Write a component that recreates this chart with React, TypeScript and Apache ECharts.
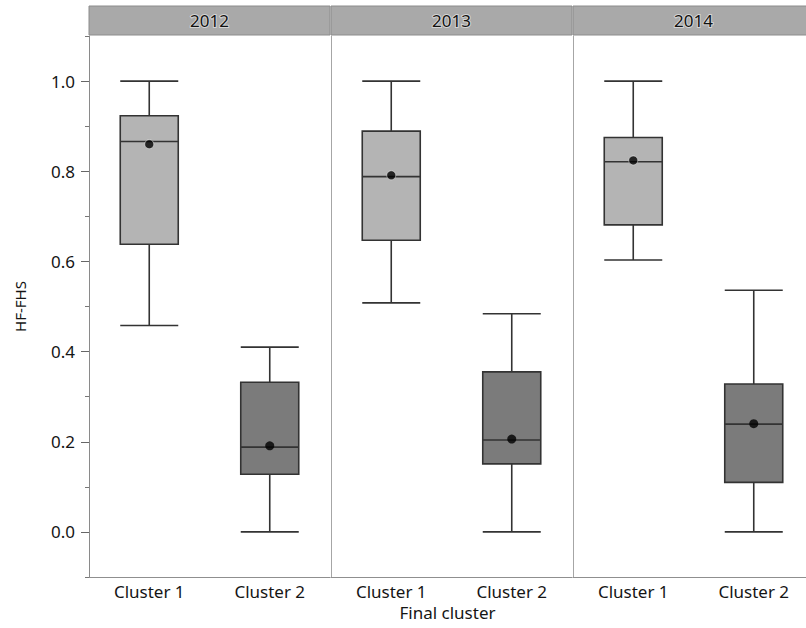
import React, { useEffect, useRef } from "react";
import * as echarts from "echarts";

const YEARS = ["2012", "2013", "2014"];
const CATEGORIES = ["Cluster 1", "Cluster 2"];
const Y_TICKS = [0, 0.2, 0.4, 0.6, 0.8, 1.0];
const Y_MINOR_TICKS = [-0.1, 0.1, 0.3, 0.5, 0.7, 0.9, 1.1];

// [min, Q1, median, Q3, max] per cluster
const box2012 = [
  [0.458, 0.638, 0.866, 0.923, 1.0],
  [0.0, 0.128, 0.188, 0.332, 0.41],
];
const box2013 = [
  [0.508, 0.647, 0.788, 0.889, 1.0],
  [0.0, 0.151, 0.204, 0.355, 0.484],
];
const box2014 = [
  [0.603, 0.681, 0.821, 0.875, 1.0],
  [0.0, 0.11, 0.239, 0.328, 0.536],
];
const mean2012 = [0.86, 0.191];
const mean2013 = [0.791, 0.206];
const mean2014 = [0.824, 0.24];

const BOXES = [box2012, box2013, box2014];
const MEANS = [mean2012, mean2013, mean2014];

const FONT = "'Noto Sans', 'DejaVu Sans', sans-serif";
const PANEL_LEFT = [89, 331, 573];
const PANEL_W = 241;
const TOP = 36;
const PLOT_H = 541;
const STRIP_TOP = 6;
const BOX_FILL = ["#b4b4b4", "#7b7b7b"];
const TEXT_COLOR = "#151515";

export default function App() {
  const ref = useRef<HTMLDivElement>(null);
  useEffect(() => {
    if (!ref.current) return;
    const chart = echarts.init(ref.current, null, { renderer: "svg" });

    const grids = PANEL_LEFT.map((left) => ({
      left,
      width: PANEL_W,
      top: TOP,
      height: PLOT_H,
      containLabel: false,
      outerBoundsMode: "none",
    }));

    const xAxes = PANEL_LEFT.map((_, i) => ({
      type: "category",
      gridIndex: i,
      data: CATEGORIES,
      axisLine: { show: true, onZero: false, lineStyle: { color: "#8f8f8f", width: 1 } },
      axisTick: { show: false },
      axisLabel: { fontSize: 17, color: TEXT_COLOR, margin: 6, fontFamily: FONT },
      splitLine: { show: false },
    }));

    const yAxes: any[] = PANEL_LEFT.map((_, i) => ({
      type: "value",
      gridIndex: i,
      min: -0.1,
      max: 1.1,
      splitLine: { show: false },
      axisLine: {
        show: true,
        onZero: false,
        lineStyle: { color: i === 0 ? "#8a8a8a" : "#a6a6a6", width: 1 },
      },
      axisTick:
        i === 0
          ? {
              show: true,
              customValues: Y_TICKS,
              length: 8,
              lineStyle: { color: "#666" },
            }
          : { show: false },
      axisLabel:
        i === 0
          ? {
              show: true,
              customValues: Y_TICKS,
              formatter: (v: number) => v.toFixed(1),
              fontSize: 17,
              color: TEXT_COLOR,
              margin: 14,
              fontFamily: FONT,
            }
          : { show: false },
      ...(i === 0
        ? {
            name: "HF-FHS",
            nameLocation: "middle",
            nameGap: 62,
            nameTextStyle: { fontSize: 15, color: TEXT_COLOR, fontFamily: FONT },
          }
        : {}),
    }));
    yAxes.push({
      type: "value",
      gridIndex: 0,
      min: -0.1,
      max: 1.1,
      position: "left",
      splitLine: { show: false },
      axisLine: { show: false, onZero: false },
      axisTick: {
        show: true,
        customValues: Y_MINOR_TICKS,
        length: 4,
        lineStyle: { color: "#777" },
      },
      axisLabel: { show: false },
    });

    const series: any[] = [];
    BOXES.forEach((boxes, i) => {
      series.push({
        type: "boxplot",
        xAxisIndex: i,
        yAxisIndex: i,
        boxWidth: [58, 58],
        itemStyle: { borderColor: "#333", borderWidth: 1.6 },
        data: boxes.map((v, j) => ({
          value: v,
          itemStyle: { color: BOX_FILL[j], borderColor: "#333", borderWidth: 1.6 },
        })),
        silent: true,
        z: 2,
      });
      series.push({
        type: "scatter",
        xAxisIndex: i,
        yAxisIndex: i,
        symbolSize: 9,
        data: MEANS[i].map((m, j) => ({
          value: [CATEGORIES[j], m],
          itemStyle: {
            color: "#000",
            borderColor: j === 0 ? "rgba(255,255,255,0.6)" : "#000",
            borderWidth: j === 0 ? 1 : 0,
          },
        })),
        silent: true,
        z: 5,
      });
    });

    const graphic: any[] = PANEL_LEFT.map((left, i) => ({
      type: "group",
      children: [
        {
          type: "rect",
          shape: { x: left, y: STRIP_TOP, width: PANEL_W, height: TOP - STRIP_TOP - 1 },
          style: { fill: "#a9a9a9", stroke: "#8c8c8c", lineWidth: 1 },
        },
        {
          type: "text",
          x: left + PANEL_W / 2,
          y: (STRIP_TOP + TOP - 1) / 2,
          style: {
            text: YEARS[i],
            fontSize: 17,
            fontFamily: FONT,
            fill: "#111",
            align: "center",
            verticalAlign: "middle",
            stroke: "rgba(255,255,255,0.5)",
            lineWidth: 2,
          },
        },
      ],
    }));
    graphic.push({
      type: "text",
      x: PANEL_LEFT[1] + PANEL_W / 2 - 4,
      y: TOP + PLOT_H + 35,
      style: {
        text: "Final cluster",
        fontSize: 17,
        fontFamily: FONT,
        fill: TEXT_COLOR,
        align: "center",
        verticalAlign: "middle",
      },
    });

    chart.setOption({
      animation: false,
      backgroundColor: "#fff",
      grid: grids,
      xAxis: xAxes,
      yAxis: yAxes,
      series,
      graphic,
    });
    return () => chart.dispose();
  }, []);
  return (
    <div
      ref={ref}
      style={{ position: "absolute", left: 0, top: 0, width: 806, height: 628 }}
    />
  );
}
